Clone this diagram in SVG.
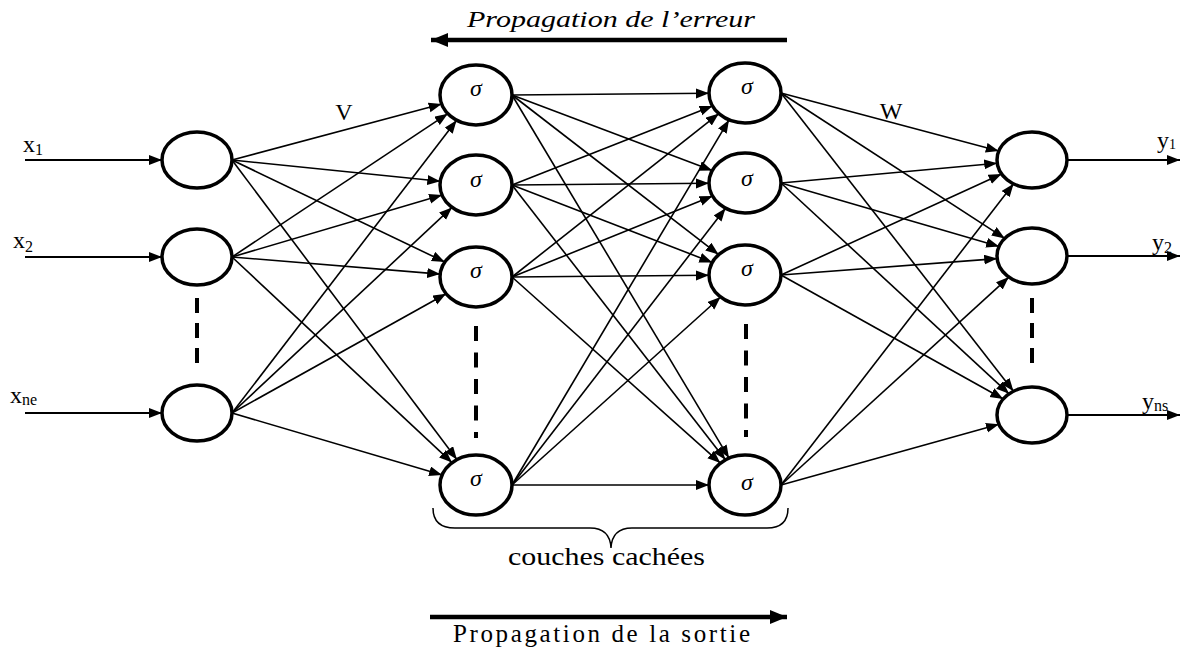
<svg xmlns="http://www.w3.org/2000/svg" width="1184" height="648" viewBox="0 0 1184 648">
<style>
.n{fill:#fff;stroke:#000;stroke-width:3.5}
.c{stroke:#000;stroke-width:1.6;fill:none;marker-end:url(#ah)}
.io{stroke:#000;stroke-width:2;fill:none;marker-end:url(#ah)}
.d{stroke:#000;stroke-width:4;fill:none}
</style>
<defs>
<marker id="ah" markerUnits="userSpaceOnUse" markerWidth="14" markerHeight="12" refX="13" refY="5" orient="auto">
<path d="M0,0 L13,5 L0,10 z" fill="#000"/>
</marker>
<marker id="big" markerUnits="userSpaceOnUse" markerWidth="20" markerHeight="16" refX="17" refY="7" orient="auto">
<path d="M0,0 L17,7 L0,14 z" fill="#000"/>
</marker>
</defs>
<rect width="1184" height="648" fill="#fff"/>
<g id="connectors">
<line class="io" x1="25" y1="160" x2="162" y2="160"/>
<line class="io" x1="25" y1="257" x2="162" y2="257"/>
<line class="io" x1="25" y1="413" x2="162" y2="413"/>
<line class="io" x1="1067" y1="160" x2="1180" y2="160"/>
<line class="io" x1="1067" y1="256" x2="1180" y2="256"/>
<line class="io" x1="1067" y1="415" x2="1180" y2="415"/>
<line class="c" x1="232" y1="160" x2="441.7" y2="104.1"/>
<line class="c" x1="232" y1="160" x2="440.3" y2="181.3"/>
<line class="c" x1="232" y1="160" x2="444.8" y2="262"/>
<line class="c" x1="232" y1="160" x2="456.9" y2="459.6"/>
<line class="c" x1="232" y1="257" x2="447.8" y2="113.7"/>
<line class="c" x1="232" y1="257" x2="442.1" y2="195"/>
<line class="c" x1="232" y1="257" x2="440.2" y2="274.1"/>
<line class="c" x1="232" y1="257" x2="452" y2="462.6"/>
<line class="c" x1="232" y1="413" x2="456.6" y2="120.3"/>
<line class="c" x1="232" y1="413" x2="452" y2="207.4"/>
<line class="c" x1="232" y1="413" x2="446.1" y2="293.7"/>
<line class="c" x1="232" y1="413" x2="442.1" y2="475"/>
<line class="c" x1="512" y1="95" x2="709" y2="93.3"/>
<line class="c" x1="512" y1="95" x2="712.2" y2="170.6"/>
<line class="c" x1="512" y1="95" x2="718.6" y2="254.6"/>
<line class="c" x1="512" y1="95" x2="729" y2="458.1"/>
<line class="c" x1="512" y1="185" x2="712.5" y2="105.9"/>
<line class="c" x1="512" y1="185" x2="709" y2="183.3"/>
<line class="c" x1="512" y1="185" x2="712.3" y2="262.4"/>
<line class="c" x1="512" y1="185" x2="725.4" y2="459.8"/>
<line class="c" x1="512" y1="277" x2="718.9" y2="113.6"/>
<line class="c" x1="512" y1="277" x2="712.6" y2="196.1"/>
<line class="c" x1="512" y1="277" x2="709" y2="275.3"/>
<line class="c" x1="512" y1="277" x2="720.4" y2="463.1"/>
<line class="c" x1="512" y1="485" x2="729" y2="119.9"/>
<line class="c" x1="512" y1="485" x2="725.5" y2="208.2"/>
<line class="c" x1="512" y1="485" x2="720.6" y2="297"/>
<line class="c" x1="512" y1="485" x2="709" y2="485"/>
<line class="c" x1="781" y1="93" x2="998.8" y2="151.1"/>
<line class="c" x1="781" y1="93" x2="1004.8" y2="238.4"/>
<line class="c" x1="781" y1="93" x2="1013.5" y2="391.2"/>
<line class="c" x1="781" y1="183" x2="997.2" y2="163.2"/>
<line class="c" x1="781" y1="183" x2="999.1" y2="246.4"/>
<line class="c" x1="781" y1="183" x2="1009.1" y2="393.8"/>
<line class="c" x1="781" y1="275" x2="1001.6" y2="173.9"/>
<line class="c" x1="781" y1="275" x2="997.2" y2="258.6"/>
<line class="c" x1="781" y1="275" x2="1003.3" y2="399"/>
<line class="c" x1="781" y1="485" x2="1013.6" y2="183.8"/>
<line class="c" x1="781" y1="485" x2="1008.9" y2="277.1"/>
<line class="c" x1="781" y1="485" x2="999" y2="424.2"/>
</g>
<g id="input-nodes">
<g id="i1"><ellipse class="n" cx="197" cy="160" rx="35" ry="28"/></g>
<g id="i2"><ellipse class="n" cx="197" cy="257" rx="35" ry="28"/></g>
<g id="i3"><ellipse class="n" cx="197" cy="413" rx="35" ry="28"/></g>
</g>
<g font-family="Liberation Serif, DejaVu Serif, serif" font-style="italic" font-size="24" text-anchor="middle">
<g id="hidden1">
<g id="h1a"><ellipse class="n" cx="476" cy="95" rx="36" ry="30"/><text x="476" y="96">σ</text></g>
<g id="h1b"><ellipse class="n" cx="476" cy="185" rx="36" ry="30"/><text x="476" y="187">σ</text></g>
<g id="h1c"><ellipse class="n" cx="476" cy="277" rx="36" ry="30"/><text x="476" y="278">σ</text></g>
<g id="h1d"><ellipse class="n" cx="476" cy="485" rx="36" ry="30"/><text x="476" y="486">σ</text></g>
</g>
<g id="hidden2">
<g id="h2a"><ellipse class="n" cx="745" cy="93" rx="36" ry="30"/><text x="747" y="94">σ</text></g>
<g id="h2b"><ellipse class="n" cx="745" cy="183" rx="36" ry="30"/><text x="747" y="186">σ</text></g>
<g id="h2c"><ellipse class="n" cx="745" cy="275" rx="36" ry="30"/><text x="747" y="276">σ</text></g>
<g id="h2d"><ellipse class="n" cx="745" cy="485" rx="36" ry="30"/><text x="747" y="490">σ</text></g>
</g>
</g>
<g id="output-nodes">
<g id="o1"><ellipse class="n" cx="1032" cy="160" rx="35" ry="28"/></g>
<g id="o2"><ellipse class="n" cx="1032" cy="256" rx="35" ry="28"/></g>
<g id="o3"><ellipse class="n" cx="1032" cy="415" rx="35" ry="28"/></g>
</g>
<g id="ellipsis">
<line class="d" x1="197" y1="298" x2="197" y2="365" stroke-dasharray="15 10"/>
<line class="d" x1="1032" y1="298" x2="1032" y2="365" stroke-dasharray="15 10"/>
<line class="d" x1="476" y1="326" x2="476" y2="438" stroke-dasharray="15 11.5"/>
<line class="d" x1="746" y1="324" x2="746" y2="437" stroke-dasharray="15 11.5"/>
</g>
<g id="labels" font-family="Liberation Serif, DejaVu Serif, serif" fill="#000">
<text x="23" y="152" font-size="24">x<tspan font-size="16" dy="3">1</tspan></text>
<text x="13" y="248" font-size="24">x<tspan font-size="16" dy="4">2</tspan></text>
<text x="10" y="403" font-size="24">x<tspan font-size="16" dy="2">ne</tspan></text>
<text x="1157" y="148" font-size="24">y<tspan font-size="14" dy="1">1</tspan></text>
<text x="1152" y="250" font-size="24">y<tspan font-size="16" dy="3">2</tspan></text>
<text x="1142" y="409" font-size="24">y<tspan font-size="16" dy="2">ns</tspan></text>
<text x="344" y="120" font-size="24" text-anchor="middle">V</text>
<text x="891" y="119" font-size="24" text-anchor="middle">W</text>
</g>
<g id="brace">
<path d="M433,508 Q433,528 455,528 L590,528 Q610,528 611,548 Q612,528 632,528 L767,528 Q788,528 788,508" fill="none" stroke="#000" stroke-width="1.5"/>
<text font-family="Liberation Serif, DejaVu Serif, serif" x="508" y="565" font-size="25" textLength="197" lengthAdjust="spacingAndGlyphs">couches cachées</text>
</g>
<g id="propagation" font-family="Liberation Serif, DejaVu Serif, serif">
<line x1="787" y1="40" x2="431" y2="40" stroke="#000" stroke-width="4.5" marker-end="url(#big)"/>
<text x="467" y="27" font-size="24" font-style="italic" textLength="288" lengthAdjust="spacingAndGlyphs">Propagation de l’erreur</text>
<line x1="430" y1="617" x2="787" y2="617" stroke="#000" stroke-width="4.5" marker-end="url(#big)"/>
<text x="453" y="642" font-size="25" textLength="297" lengthAdjust="spacing">Propagation de la sortie</text>
</g>
</svg>
